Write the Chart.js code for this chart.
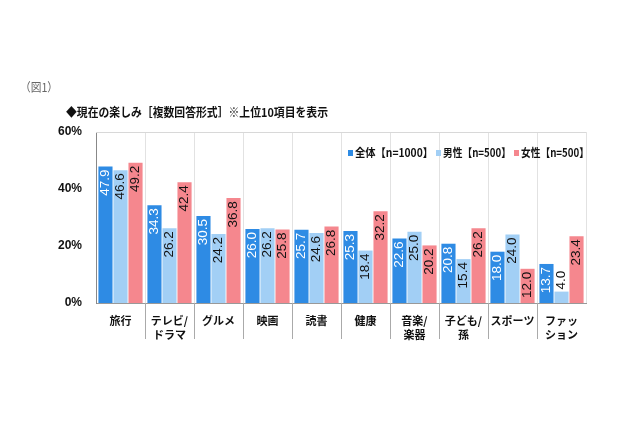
<!DOCTYPE html>
<html>
<head>
<meta charset="utf-8">
<script src="https://cdn.jsdelivr.net/npm/chart.js@4/dist/chart.umd.min.js"></script>
<style>
  html, body { margin: 0; padding: 0; background: #fff; }
  #wrap { width: 640px; height: 426px; position: relative; }
</style>
</head>
<body>
<div id="wrap"><canvas id="chart" width="640" height="426"></canvas></div>
<script>
'use strict';
var categories = [
  ['旅行'], ['テレビ/', 'ドラマ'], ['グルメ'], ['映画'], ['読書'],
  ['健康'], ['音楽/', '楽器'], ['子ども/', '孫'], ['スポーツ'], ['ファッ', 'ション']
];
var seriesNames = ['全体【n=1000】', '男性【n=500】', '女性【n=500】'];
var total = [47.9, 34.3, 30.5, 26.0, 25.7, 25.3, 22.6, 20.8, 18.0, 13.7];
var male = [46.6, 26.2, 24.2, 26.2, 24.6, 18.4, 25.0, 15.4, 24.0, 4.0];
var female = [49.2, 42.4, 36.8, 25.8, 26.8, 32.2, 20.2, 26.2, 12.0, 23.4];
var yMax = 60, yStep = 20;

var colors = ['#2e8be4', '#a2cff5', '#f5878e'];
var labelColors = ['#ffffff', '#111111', '#111111'];
var FONT = "'Liberation Sans', 'Noto Sans CJK JP', sans-serif";
var JFONT = "'Noto Sans CJK JP', 'Liberation Sans', sans-serif";

// draw text squeezed horizontally into a given width
function fitText(ctx, txt, x, y, w) {
  var tw = ctx.measureText(txt).width;
  var s = Math.min(1, w / tw);
  ctx.save();
  ctx.translate(x, y);
  ctx.scale(s, 1);
  ctx.fillText(txt, 0, 0);
  ctx.restore();
  return tw * s;
}

var decor = {
  id: 'decor',
  afterDraw: function (c) {
    var ctx = c.ctx, a = c.chartArea;
    ctx.save();
    ctx.fillStyle = '#666';
    ctx.font = '12px ' + JFONT;
    ctx.textBaseline = 'middle';
    fitText(ctx, '（図1）', 20, 87, 38);
    ctx.fillStyle = '#111';
    ctx.font = 'bold 12px ' + JFONT;
    fitText(ctx, '◆現在の楽しみ［複数回答形式］※上位10項目を表示', 66, 112, 262);
    // top frame line
    ctx.strokeStyle = '#d8d8d8';
    ctx.lineWidth = 1;
    ctx.beginPath();
    ctx.moveTo(a.left, a.top + 0.5);
    ctx.lineTo(a.right, a.top + 0.5);
    ctx.stroke();
    // category separators below axis
    ctx.strokeStyle = '#aaa';
    var w = (a.right - a.left) / categories.length;
    for (var i = 1; i < categories.length; i++) {
      var px = Math.round(a.left + i * w) + 0.5;
      ctx.beginPath();
      ctx.moveTo(px, a.bottom);
      ctx.lineTo(px, a.bottom + 36);
      ctx.stroke();
    }
    // legend
    ctx.font = 'bold 11.5px ' + JFONT;
    var lx = 348, ly = 153;
    for (var k = 0; k < seriesNames.length; k++) {
      ctx.fillStyle = colors[k];
      ctx.fillRect(lx, ly - 3, 5, 6);
      ctx.fillStyle = '#111';
      lx += 7 + fitText(ctx, seriesNames[k], lx + 7, ly, k === 0 ? 78 : 68) + 3;
    }
    ctx.restore();
  },
  afterDatasetsDraw: function (c) {
    var ctx = c.ctx;
    ctx.save();
    ctx.font = '13.5px ' + FONT;
    ctx.textBaseline = 'middle';
    c.data.datasets.forEach(function (ds, di) {
      c.getDatasetMeta(di).data.forEach(function (bar, i) {
        var txt = ds.data[i].toFixed(1);
        var len = ctx.measureText(txt).width;
        var h = bar.base - bar.y;
        ctx.save();
        ctx.translate(bar.x, bar.y);
        ctx.rotate(-Math.PI / 2);
        if (len + 4 <= h) {
          ctx.fillStyle = labelColors[di];
          ctx.textAlign = 'right';
          ctx.fillText(txt, -3, 0);
        } else {
          ctx.fillStyle = '#111';
          ctx.textAlign = 'left';
          ctx.fillText(txt, 2, 0);
        }
        ctx.restore();
      });
    });
    ctx.restore();
  }
};

new Chart(document.getElementById('chart'), {
  type: 'bar',
  data: {
    labels: categories,
    datasets: [
      { label: seriesNames[0], data: total, backgroundColor: colors[0] },
      { label: seriesNames[1], data: male, backgroundColor: colors[1] },
      { label: seriesNames[2], data: female, backgroundColor: colors[2] }
    ]
  },
  options: {
    responsive: false,
    animation: false,
    devicePixelRatio: 1,
    layout: { padding: { left: 30, top: 132, right: 54, bottom: 0 } },
    plugins: { legend: { display: false }, title: { display: false }, tooltip: { enabled: false } },
    datasets: { bar: { categoryPercentage: 0.92, barPercentage: 0.94 } },
    scales: {
      x: {
        grid: { color: '#e2e2e2', drawTicks: false, offset: true },
        border: { color: '#999' },
        ticks: {
          color: '#111', padding: 11,
          font: { family: JFONT, size: 11, weight: 'bold', lineHeight: 1.25 },
          maxRotation: 0, autoSkip: false
        },
        afterFit: function (s) { s.height = 123; }
      },
      y: {
        min: 0, max: yMax,
        grid: { display: false },
        border: { color: '#888' },
        ticks: {
          stepSize: yStep, color: '#111', padding: 6,
          font: { family: FONT, size: 12, weight: 'bold' },
          callback: function (v) { return v + '%'; }
        },
        afterFit: function (s) { s.width = 66; }
      }
    }
  },
  plugins: [decor]
});
</script>
</body>
</html>
